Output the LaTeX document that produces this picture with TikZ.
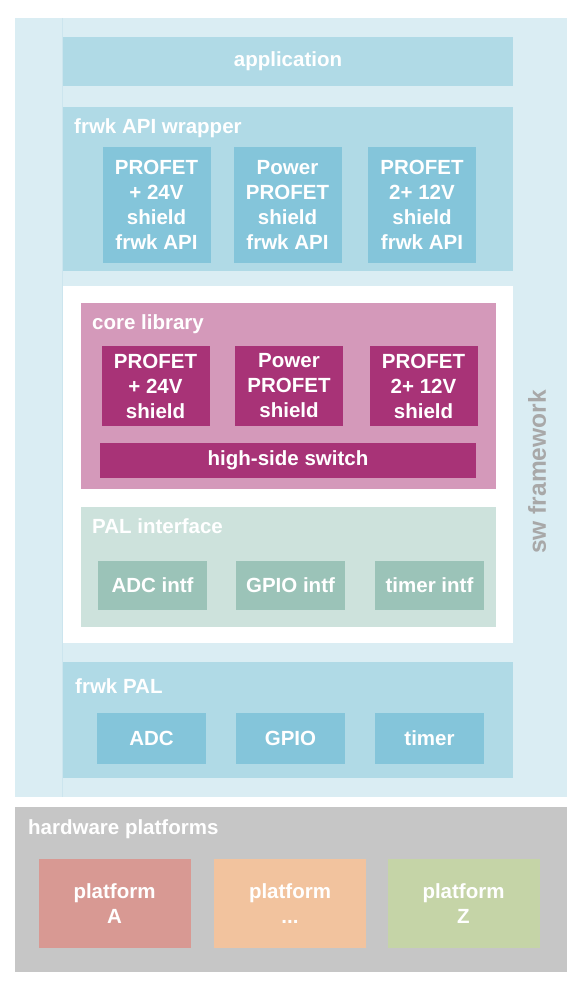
\documentclass[tikz,border=0pt]{standalone}
\usepackage{fontspec}
\setmainfont{Liberation Sans}

\newlength{\du}
\setlength{\du}{1pt}

\definecolor{swbgcolor}{HTML}{DAEDF3}
\definecolor{swlinecolor}{HTML}{CCE5EE}
\definecolor{layercolor}{HTML}{B0DAE6}
\definecolor{blockcolor}{HTML}{84C5DA}
\definecolor{corecolor}{HTML}{D499BA}
\definecolor{coreblockcolor}{HTML}{A83377}
\definecolor{intfcolor}{HTML}{CDE2DC}
\definecolor{intfblockcolor}{HTML}{9BC3B8}
\definecolor{hwcolor}{HTML}{C6C6C6}
\definecolor{platAcolor}{HTML}{D89993}
\definecolor{platBcolor}{HTML}{F2C39E}
\definecolor{platZcolor}{HTML}{C5D4A7}
\definecolor{swtextcolor}{HTML}{A8A8A8}

\tikzset{
  layer/.style={fill=#1, draw=none, inner sep=0pt, text=white, align=center,
    font=\bfseries\fontsize{20.5}{25}\selectfont},
  layertitle/.style={anchor=west, inner sep=0pt, text=white,
    font=\bfseries\fontsize{20.5}{25}\selectfont},
}

\begin{document}
\begin{tikzpicture}
\pgftransformxscale{1.000000}
\pgftransformyscale{-1.000000}
\useasboundingbox (0\du,0\du) rectangle (582\du,996\du);
% sw framework
\node[layer=swbgcolor, minimum width=552\du, minimum height=779\du] (swfw) at (291\du,407.5\du) {};
\node[rotate=90, inner sep=0pt, text=swtextcolor, font=\bfseries\fontsize{24.5}{28}\selectfont] (swfwtext) at (537\du,472\du) {sw framework};
% application
\node[layer=layercolor, minimum width=450\du, minimum height=49\du] (app) at (288\du,61.5\du) {application};
\draw[swlinecolor, line width=0.8\du] (swfw.north -| app.west) -- (swfw.south -| app.west);
% frwk API wrapper
\node[layer=layercolor, minimum width=450\du, minimum height=164\du] (apiwrap) at (288\du,189\du) {};
\node[layertitle] (apiwraptitle) at (74\du,128\du) {frwk API wrapper};
\node[layer=blockcolor, minimum width=108\du, minimum height=116\du] (apiplus) at (156.5\du,205\du) {PROFET\\+ 24V\\shield\\frwk API};
\node[layer=blockcolor, minimum width=108\du, minimum height=116\du] (apipower) at (287.5\du,205\du) {Power\\PROFET\\shield\\frwk API};
\node[layer=blockcolor, minimum width=108\du, minimum height=116\du] (apitwo) at (422\du,205\du) {PROFET\\2+ 12V\\shield\\frwk API};
% white area
\node[layer=white, minimum width=450\du, minimum height=357\du] (inner) at (288\du,464.5\du) {};
% core library
\node[layer=corecolor, minimum width=415\du, minimum height=186\du] (core) at (288.5\du,396\du) {};
\node[layertitle] (coretitle) at (92\du,324\du) {core library};
\node[layer=coreblockcolor, minimum width=108\du, minimum height=80\du] (coreplus) at (155.5\du,386\du) {PROFET\\+ 24V\\shield};
\node[layer=coreblockcolor, minimum width=108\du, minimum height=80\du] (corepower) at (289\du,386\du) {Power\\PROFET\\shield};
\node[layer=coreblockcolor, minimum width=108\du, minimum height=80\du] (coretwo) at (423.5\du,386\du) {PROFET\\2+ 12V\\shield};
\node[layer=coreblockcolor, minimum width=376\du, minimum height=35\du] (hss) at (288\du,460.5\du) {high-side switch};
% PAL interface
\node[layer=intfcolor, minimum width=415\du, minimum height=120\du] (palintf) at (288.5\du,567\du) {};
\node[layertitle] (palintftitle) at (92\du,526\du) {PAL interface};
\node[layer=intfblockcolor, minimum width=109\du, minimum height=49\du] (adcintf) at (152.5\du,585.5\du) {ADC intf};
\node[layer=intfblockcolor, minimum width=109\du, minimum height=49\du] (gpiointf) at (290.5\du,585.5\du) {GPIO intf};
\node[layer=intfblockcolor, minimum width=109\du, minimum height=49\du] (timerintf) at (429.5\du,585.5\du) {timer intf};
% frwk PAL
\node[layer=layercolor, minimum width=450\du, minimum height=116\du] (frwkpal) at (288\du,720\du) {};
\node[layertitle] (frwkpaltitle) at (75\du,686\du) {frwk PAL};
\node[layer=blockcolor, minimum width=109\du, minimum height=51\du] (adc) at (151.5\du,738.5\du) {ADC};
\node[layer=blockcolor, minimum width=109\du, minimum height=51\du] (gpio) at (290.5\du,738.5\du) {GPIO};
\node[layer=blockcolor, minimum width=109\du, minimum height=51\du] (timer) at (429.5\du,738.5\du) {timer};
% hardware platforms
\node[layer=hwcolor, minimum width=552\du, minimum height=165\du] (hw) at (291\du,889.5\du) {};
\node[layertitle] (hwtitle) at (28\du,829\du) {hardware platforms};
\node[layer=platAcolor, minimum width=152\du, minimum height=89\du] (platA) at (114.5\du,903.5\du) {platform\\A};
\node[layer=platBcolor, minimum width=152\du, minimum height=89\du] (platB) at (290\du,903.5\du) {platform\\...};
\node[layer=platZcolor, minimum width=152\du, minimum height=89\du] (platZ) at (463.5\du,903.5\du) {platform\\Z};
\end{tikzpicture}
\end{document}
